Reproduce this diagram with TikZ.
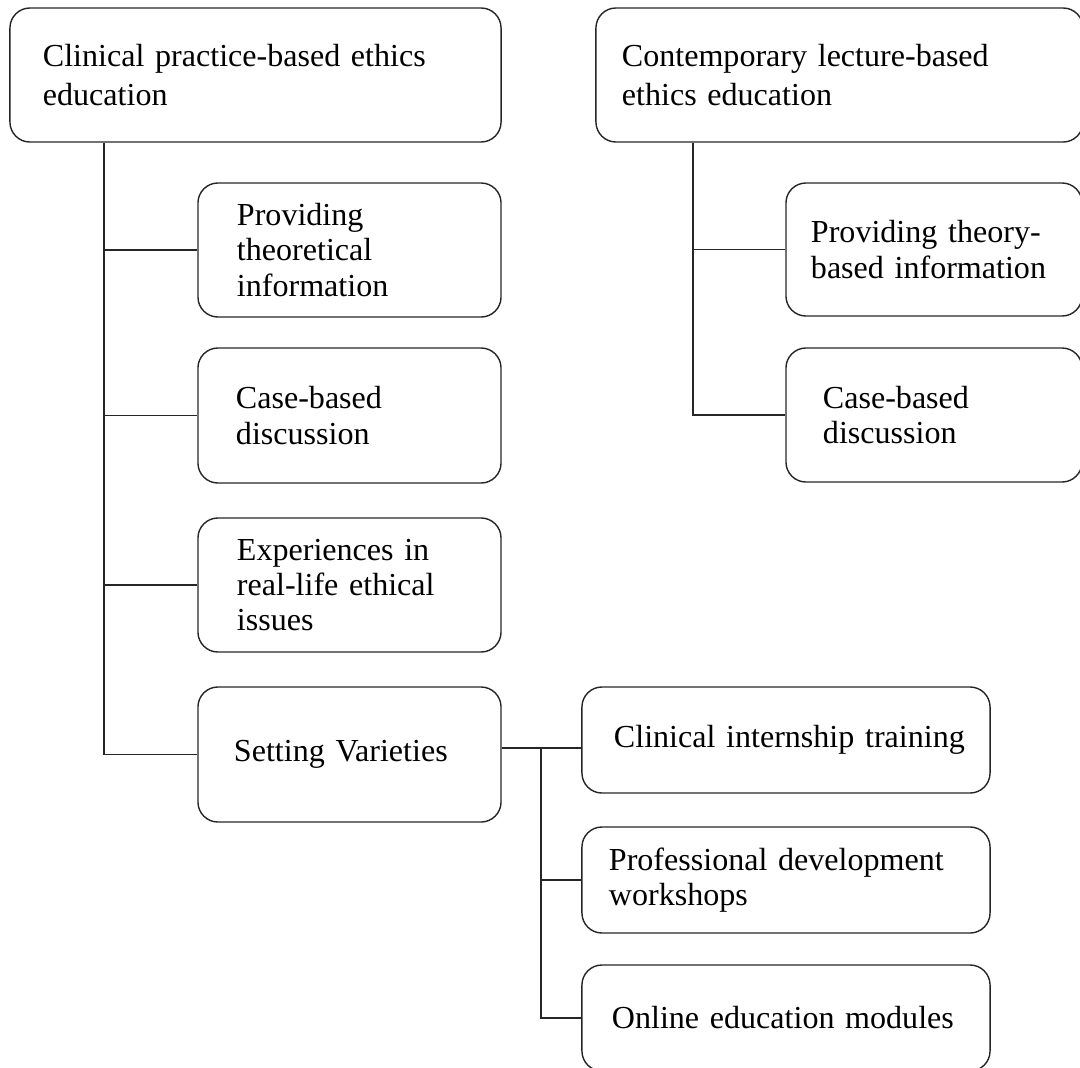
\documentclass[tikz,border=0pt]{standalone}
\usepackage{fontspec}
\setmainfont{Liberation Serif}
\begin{document}
\begin{tikzpicture}[x=0.025cm,y=-0.025cm,
 box/.style={draw=black!85,line width=1pt,rounded corners=0.5cm,align=left,inner ysep=0pt,font=\fontsize{22.8}{25}\selectfont},
 link/.style={black!85,line width=1pt}]
\useasboundingbox (0,0) rectangle (1080,1067);

\node (clin) at (255.5,75) [box,font=\fontsize{22.8}{27.5}\selectfont,inner xsep=0.825cm,text width=10.625cm,minimum height=3.35cm]{Clinical practice-based ethics\\education};
\node (cont) at (839.5,75) [box,font=\fontsize{22.8}{27.5}\selectfont,inner xsep=0.65cm,text width=10.875cm,minimum height=3.35cm]{Contemporary lecture-based\\ethics education};

\node (theo) at (349.5,250) [box,inner xsep=0.975cm,text width=5.625cm,minimum height=3.35cm]{Providing\\theoretical\\information};
\node (casea) at (349.5,415.5) [box,inner xsep=0.95cm,text width=5.675cm,minimum height=3.375cm]{Case-based\\discussion};
\node (exper) at (349.5,585) [box,inner xsep=0.975cm,text width=5.625cm,minimum height=3.35cm]{\mbox{Experiences in}\\\mbox{real-life ethical}\\issues};
\node (sett) at (349.5,754.5) [box,inner xsep=0.9cm,text width=5.775cm,minimum height=3.375cm]{\mbox{Setting Varieties}};

\node (theob) at (934,249.5) [box,inner xsep=0.625cm,text width=6.15cm,minimum height=3.325cm]{\mbox{Providing theory-}\\\mbox{based information}};
\node (caseb) at (934,415) [box,inner xsep=0.925cm,text width=5.55cm,minimum height=3.35cm]{Case-based\\discussion};

\node (intern) at (786,740) [box,inner xsep=0.8cm,text width=8.6cm,minimum height=2.65cm]{\mbox{Clinical internship training}};
\node (prof) at (786,880) [box,inner xsep=0.675cm,text width=8.85cm,minimum height=2.65cm]{\mbox{Professional development}\\workshops};
\node (online) at (786,1018) [box,inner xsep=0.75cm,text width=8.7cm,minimum height=2.65cm]{\mbox{Online education modules}};

\coordinate (spineL) at (104,0);
\coordinate (spineR) at (693,0);
\coordinate (split) at (541,748);

\draw[link] (clin.south -| spineL) |- (sett.west);
\draw[link] (spineL |- theo.west) -- (theo.west);
\draw[link] (spineL |- casea.west) -- (casea.west);
\draw[link] (spineL |- exper.west) -- (exper.west);

\draw[link] (cont.south -| spineR) |- (caseb.west);
\draw[link] (spineR |- theob.west) -- (theob.west);

\draw[link] (sett.east |- split) -- (split) -- (split -| intern.west);
\draw[link] (split) |- (online.west);
\draw[link] (split |- prof.west) -- (prof.west);

\end{tikzpicture}
\end{document}
